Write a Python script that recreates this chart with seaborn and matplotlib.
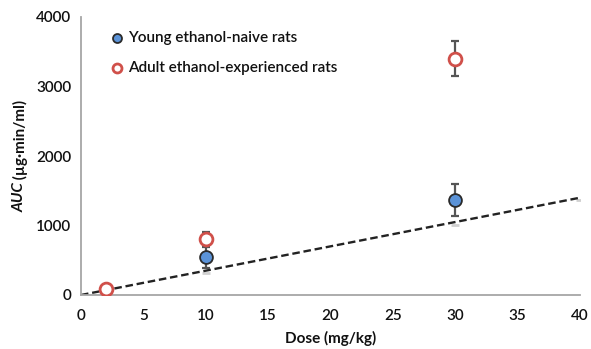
import matplotlib
matplotlib.use("Agg")
import matplotlib.pyplot as plt
from matplotlib import font_manager as fm
import matplotlib.transforms as mtrans
import seaborn as sns
import pandas as pd
import numpy as np

# Data
young_dose = [10, 30]
young_auc = [540, 1370]
young_err = [150, 230]

adult_dose = [2, 10, 30]
adult_auc = [85, 805, 3400]
adult_err = [20, 100, 250]

line_dose = [0, 10, 30, 40]
line_auc = [0, 350, 1050, 1400]

sns.set_theme(style="white")
plt.rcParams['font.family'] = ['Lato', 'DejaVu Sans']

# find an italic bold font for "AUC"
it_family = 'DejaVu Sans'
for fam in ['Lato', 'Open Sans', 'Noto Sans', 'Liberation Sans', 'DejaVu Sans']:
    try:
        p = fm.findfont(fm.FontProperties(family=fam, style='italic', weight='bold'),
                        fallback_to_default=False)
        if 'talic' in p or 'Oblique' in p:
            it_family = fam
            break
    except Exception:
        pass

fig = plt.figure(figsize=(5.91, 3.49), dpi=100)
ax = fig.add_axes([81/591, 1-295/349, (580-81)/591, (295-17)/349])

# dashed reference line
sns.lineplot(x=line_dose, y=line_auc, ax=ax, color="#222222", linestyle=(0, (3.2, 1.6)),
             linewidth=1.7, zorder=2)
ax.plot(line_dose, [v - 40 for v in line_auc], linestyle="none", marker="_", markersize=6,
        color="#d0d0d0", markeredgewidth=2, zorder=1)

ax.errorbar(young_dose, young_auc, yerr=young_err, fmt="none", ecolor="#555555",
            elinewidth=1.6, capsize=3, capthick=1.6, zorder=3)
ax.errorbar(adult_dose, adult_auc, yerr=adult_err, fmt="none", ecolor="#555555",
            elinewidth=1.6, capsize=3, capthick=1.6, zorder=3)

young_df = pd.DataFrame({"Dose": young_dose, "AUC": young_auc})
adult_df = pd.DataFrame({"Dose": adult_dose, "AUC": adult_auc})
sns.scatterplot(data=young_df, x="Dose", y="AUC", ax=ax, s=85, color="#5b93d8",
                edgecolor="#2a2a2a", linewidth=1.3, zorder=4,
                label="Young ethanol-naive rats")
sns.scatterplot(data=adult_df, x="Dose", y="AUC", ax=ax, s=85, facecolor="white",
                edgecolor="#d0504a", linewidth=2.0, zorder=4,
                label="Adult ethanol-experienced rats")

ax.set_xlim(0, 40)
ax.set_ylim(0, 4000)
ax.set_xticks(range(0, 41, 5))
ax.set_yticks(range(0, 4001, 1000))
for s in ["top", "right"]:
    ax.spines[s].set_visible(False)
for s in ["left", "bottom"]:
    ax.spines[s].set_color("#a6a6a6")
    ax.spines[s].set_linewidth(1.3)
ax.tick_params(axis="both", direction="out", length=4, width=1.1, color="#a6a6a6",
               labelsize=11, labelcolor="#111111", pad=3)
ax.tick_params(axis="x", pad=6)
for lbl in ax.get_xticklabels() + ax.get_yticklabels():
    lbl.set_fontweight("semibold")

ax.set_xlabel("Dose (mg/kg)", fontsize=11, fontweight="bold", color="#111111", labelpad=6)
ax.set_ylabel("")

# y label in two parts: italic "AUC" + regular bold unit
y_label_x = 20 / 591
t1 = fig.text(y_label_x, 0, "AUC", rotation=90, fontsize=11, fontweight="bold",
              style="italic", family=[it_family, 'DejaVu Sans'], color="#111111",
              ha="center", va="bottom")
t2 = fig.text(y_label_x, 0, " (µg·min/ml)", rotation=90, fontsize=11, fontweight="bold",
              color="#111111", ha="center", va="bottom")
fig.canvas.draw()
r = fig.canvas.get_renderer()
h1 = t1.get_window_extent(r).height
h2 = t2.get_window_extent(r).height
H = fig.bbox.height
center = (295 + 17) / 2  # pixel from top
bottom_px = H - center - (h1 + h2) / 2
t1.set_position((y_label_x, bottom_px / H))
t2.set_position((y_label_x, (bottom_px + h1) / H))

leg = ax.legend(loc="upper left", bbox_to_anchor=(0.045, 0.97), frameon=False,
                fontsize=11, handletextpad=0.2, labelspacing=1.0, borderaxespad=0,
                handlelength=1.0, markerscale=0.7)
for t in leg.get_texts():
    t.set_fontweight("semibold")
    t.set_color("#111111")

fig.savefig("out.png", dpi=100)
